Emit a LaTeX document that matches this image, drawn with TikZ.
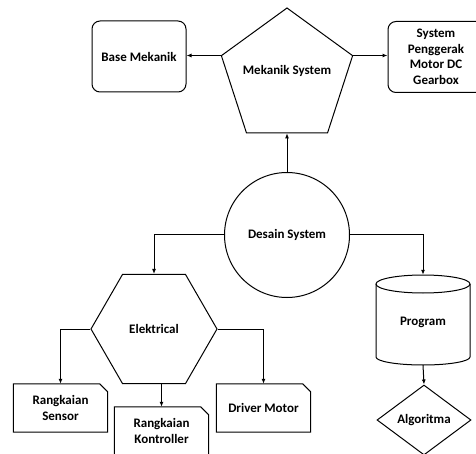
\documentclass[tikz,border=0pt]{standalone}
\usepackage{fontspec}
\setmainfont{Carlito}
\usetikzlibrary{shapes.geometric,arrows.meta,calc}
\begin{document}
\begin{tikzpicture}[x=1pt,y=-1pt,
  every node/.style={font=\fontsize{13}{15.5}\selectfont\bfseries, align=center, inner sep=0pt},
  ln/.style={line width=1pt, black},
  arr/.style={ln, -{Latex[length=5pt,width=4pt]}},
  rbox/.style={draw, ln, rounded corners=8pt, minimum width=94pt, minimum height=71pt},
  docbox/.style={minimum width=94pt, minimum height=48pt},
]
\useasboundingbox (0,0) rectangle (476,454);
% top row
\node[draw, ln, regular polygon, regular polygon sides=5, minimum size=138pt,
      label={[yshift=6pt]center:Mekanik System}] (mek) at (287,77) {};
\node[rbox] (base) at (139,56.5) {Base Mekanik};
\node[rbox, minimum width=96pt] (gear) at (436,57) {System\\Penggerak\\Motor DC\\Gearbox};
% centre
\node[draw, ln, circle, minimum size=125pt] (des) at (287,235) {Desain System};
% electrical
\node[draw, ln, regular polygon, regular polygon sides=6, minimum size=126pt] (hex) at (154,329) {};
\node at (154,329) (hext) {Elektrical};
\node[docbox] (sens) at (60.5,408) {Rangkaian\\Sensor};
\node[docbox] (kont) at (161.5,431) {Rangkaian\\Kontroller};
\node[docbox] (drv) at (263.5,408) {Driver Motor};
\foreach \n in {sens,kont,drv}
  \draw[ln] (\n.north west) -- ([xshift=-8pt]\n.north east) -- ([yshift=-8pt]\n.north east)
     -- (\n.south east) -- (\n.south west) -- cycle;
% program
\node[minimum width=94pt, minimum height=90pt] (prog) at (423,320) {};
\node (progt) at (423,322) {Program};
\draw[ln] (376,284) -- (376,357) arc[start angle=180, end angle=0, x radius=47, y radius=8] -- (470,284);
\draw[ln] (423,284) ellipse [x radius=47, y radius=9];
\node[draw, ln, diamond, minimum width=94pt, minimum height=70pt] (alg) at (424,420) {Algoritma};
% connectors
\draw[arr] (mek.corner 2) -- (mek.corner 2 -| base.east);
\draw[arr] (mek.corner 5) -- (mek.corner 5 -| gear.west);
\draw[arr] (des.north) -- (mek.south);
\draw[arr] (des.west) -| (hex.north);
\draw[arr] (des.east) -| (prog.north);
\draw[arr] (hex.west) -| (sens.north);
\draw[arr] (hex.east) -| (drv.north);
\draw[arr] (hex.south -| kont.north) -- (kont.north);
\draw[arr] (prog.south) -- (alg.north);
\end{tikzpicture}
\end{document}
